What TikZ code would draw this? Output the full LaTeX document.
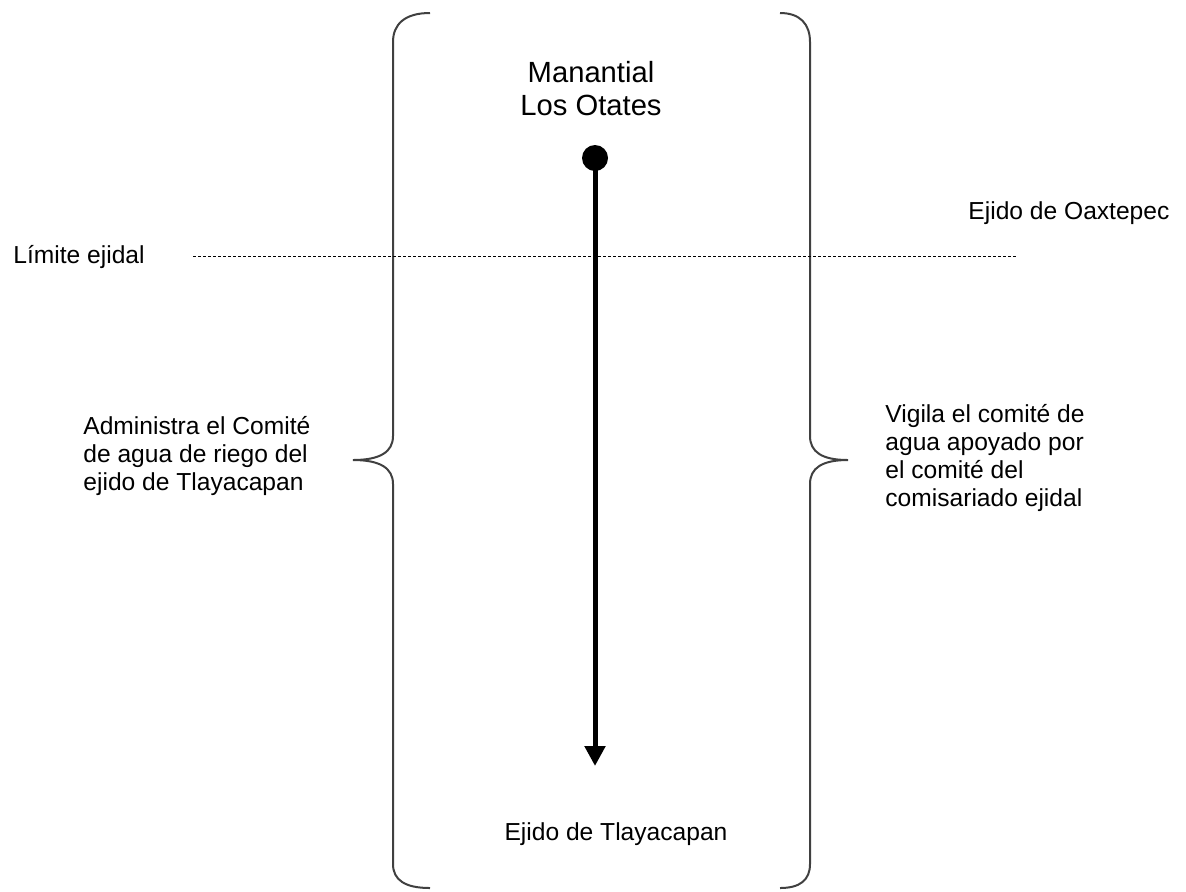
\documentclass[tikz,border=0pt]{standalone}
\usepackage{fontspec}
\setmainfont{Liberation Sans}
\usetikzlibrary{arrows.meta}
\tikzset{
   label/.style={inner sep=0pt, align=left, font=\fontsize{12.3}{14}\selectfont},
   curly/.style={line width=1pt, draw=black!75},
   flow/.style={line width=2.5pt, -{Triangle[length=10pt, width=10pt]}},
}
\begin{document}
\begin{tikzpicture}[x=0.5pt, y=-0.5pt]
   \useasboundingbox (0, 0) rectangle (1186, 891);
   % the two braces
   \draw[curly] (430, 13) .. controls (405, 13) and (393, 24) .. (393, 42)
      -- (393, 436) .. controls (393, 452) and (380, 460) .. (353, 460)
      .. controls (380, 460) and (393, 468) .. (393, 484)
      -- (393, 864) .. controls (393, 880) and (405, 888) .. (430, 888);
   \draw[curly] (780, 13) .. controls (800, 13) and (810, 24) .. (810, 42)
      -- (810, 436) .. controls (810, 452) and (822, 460) .. (848, 460)
      .. controls (822, 460) and (810, 468) .. (810, 484)
      -- (810, 864) .. controls (810, 880) and (800, 888) .. (780, 888);
   % limite
   \coordinate (limA) at (193, 256);
   \coordinate (limB) at (1018, 256);
   \draw[line width=0.5pt, dash pattern=on 1.5pt off 1pt] (limA) -- (limB);
   \node (limite) [label, anchor=base west] at (13, 263) {Límite ejidal};
   \node (oaxtepec) [label, anchor=base west] at (968, 219) {Ejido de Oaxtepec};
   % manantial
   \node (spring) [circle, fill=black, inner sep=0pt, minimum size=13pt] at (595, 158) {};
   \node (title) [label, align=center, anchor=base,
      font=\fontsize{14.6}{16.5}\selectfont] at (591, 115) {Manantial\\Los Otates};
   \coordinate (outlet) at (595, 766);
   \draw[flow] (spring.center) -- (outlet);
   \node (tlaya) [label, anchor=base] at (616, 840) {Ejido de Tlayacapan};
   % the two sides
   \node (admin) [label, anchor=base west] at (83, 490)
      {Administra el Comité\\de agua de riego del\\ejido de Tlayacapan};
   \node (vigila) [label, anchor=base west] at (885, 506)
      {Vigila el comité de\\agua apoyado por\\el comité del\\comisariado ejidal};
\end{tikzpicture}
\end{document}
